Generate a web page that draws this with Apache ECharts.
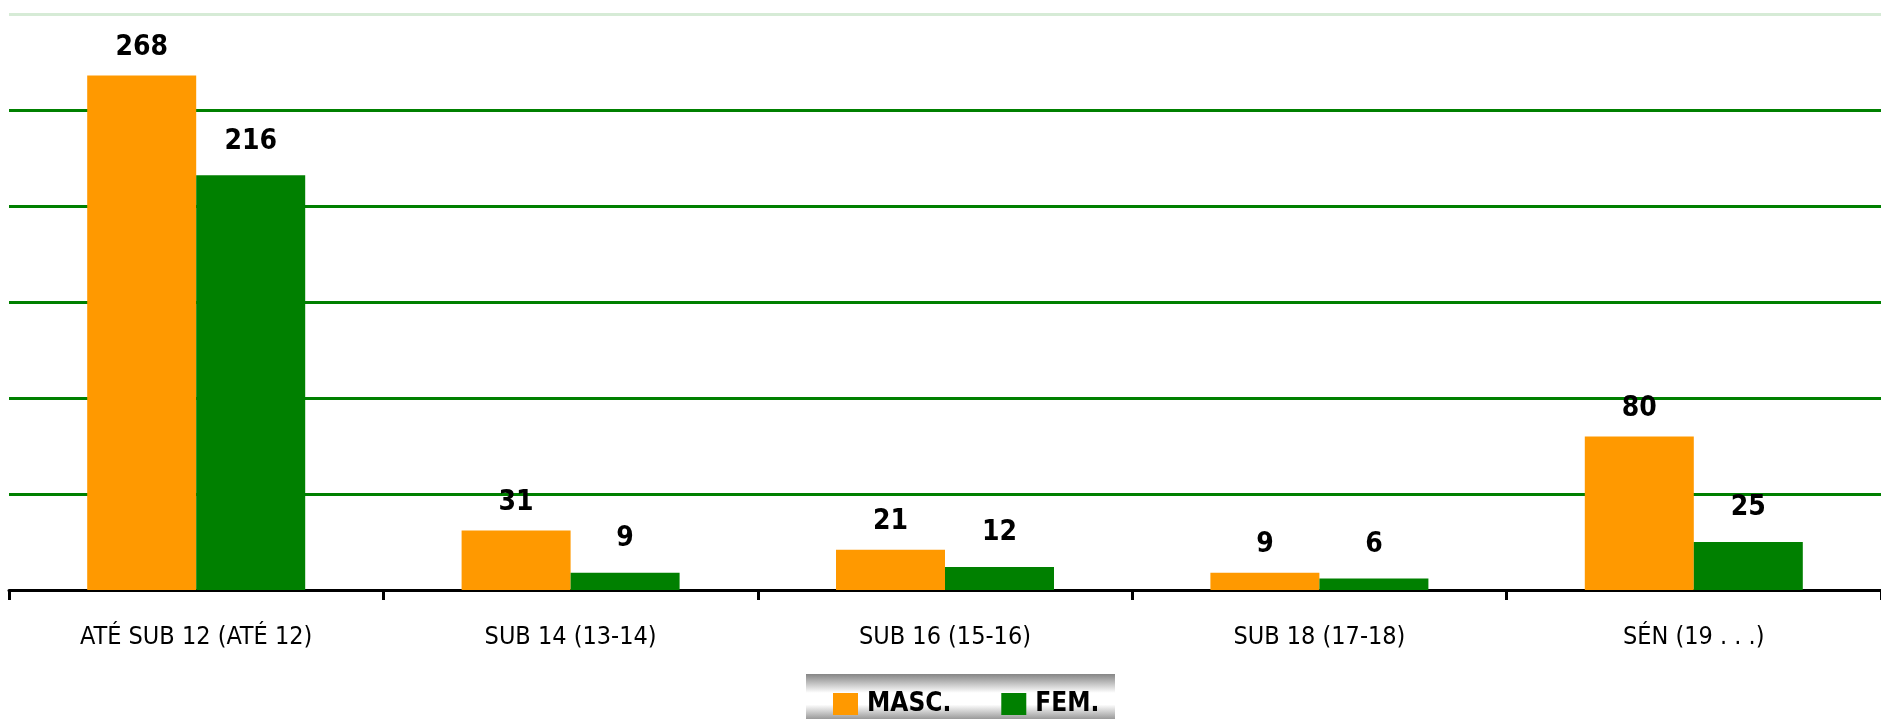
<!DOCTYPE html>
<html>
<head>
<meta charset="utf-8">
<script src="https://cdn.jsdelivr.net/npm/echarts@6/dist/echarts.min.js"></script>
<style>
html,body{margin:0;padding:0;background:#fff;}
#chart{width:1881px;height:719px;}
</style>
</head>
<body>
<div id="chart"></div>
<script>
var categories = ['ATÉ SUB 12 (ATÉ 12)', 'SUB 14 (13-14)', 'SUB 16 (15-16)', 'SUB 18 (17-18)', 'SÉN (19 . . .)'];
var seriesNames = ['MASC.', 'FEM.'];
var mascValues = [268, 31, 21, 9, 80];
var femValues = [216, 9, 12, 6, 25];
var yMin = 0, yMax = 300, yInterval = 50;

var FONT = '"DejaVu Sans Condensed", "Liberation Sans Narrow", sans-serif';
var chart = echarts.init(document.getElementById('chart'));

var gridColors = [];
for (var v = yMin; v < yMax; v += yInterval) gridColors.push('#008000');
gridColors.push('#d6ebd6');

chart.setOption({
  backgroundColor: '#ffffff',
  animation: false,
  graphic: [{
    type: 'rect',
    left: 806, top: 674,
    shape: { width: 309, height: 45 },
    style: {
      fill: new echarts.graphic.LinearGradient(0, 0, 0, 1, [
        { offset: 0, color: '#858585' },
        { offset: 0.42, color: '#ffffff' },
        { offset: 0.68, color: '#ffffff' },
        { offset: 1, color: '#9a9a9a' }
      ])
    },
    z: 0
  }],
  legend: {
    data: seriesNames,
    left: 833,
    top: 691,
    itemWidth: 25,
    itemHeight: 22,
    itemGap: 50,
    icon: 'rect',
    padding: 0,
    z: 10,
    textStyle: { fontFamily: FONT, fontWeight: 'bold', fontSize: 26, color: '#000', padding: [0, 0, 0, 4], lineHeight: 22 }
  },
  grid: { left: 9, top: 14, width: 1882, bottom: 129, containLabel: false },
  xAxis: {
    type: 'category',
    data: categories,
    axisLine: { show: true, lineStyle: { color: '#000', width: 3 } },
    axisTick: { show: true, length: 10, lineStyle: { color: '#000', width: 3 } },
    axisLabel: { margin: 35, fontFamily: FONT, fontSize: 25, color: '#000', interval: 0 },
    splitLine: { show: false }
  },
  yAxis: {
    type: 'value',
    min: yMin, max: yMax, interval: yInterval,
    axisLine: { show: false },
    axisTick: { show: false },
    axisLabel: { show: false },
    splitLine: { show: true, lineStyle: { color: gridColors, width: 3 } }
  },
  series: [
    {
      name: seriesNames[0], type: 'bar', data: mascValues,
      barWidth: 109, barGap: '0%',
      itemStyle: { color: '#ff9900' },
      label: { show: true, position: 'top', distance: 14, fontFamily: FONT, fontWeight: 'bold', fontSize: 28, color: '#000' },
      z: 3
    },
    {
      name: seriesNames[1], type: 'bar', data: femValues,
      barWidth: 109,
      itemStyle: { color: '#008000' },
      label: { show: true, position: 'top', distance: 20, fontFamily: FONT, fontWeight: 'bold', fontSize: 28, color: '#000' },
      z: 3
    }
  ]
});
</script>
</body>
</html>
